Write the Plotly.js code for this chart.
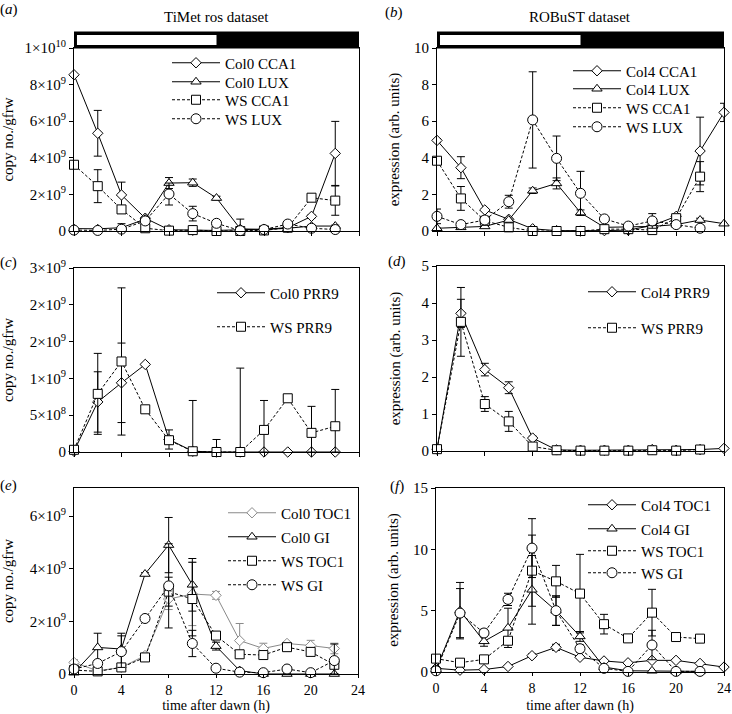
<!DOCTYPE html>
<html><head><meta charset="utf-8">
<script src="https://cdn.plot.ly/plotly-3.0.1.min.js"></script>
<style>body{margin:0;background:#fff;} #chart{width:732px;height:714px;}</style>
</head><body><div id="chart"></div>
<script>
// ---------- data ----------
const hours = [0,2,4,6,8,10,12,14,16,18,20,22];
const hours24 = [0,2,4,6,8,10,12,14,16,18,20,22,24];

// (a) TiMet ros dataset, copy no./gfrw
const aCol0CCA1 = [8.54e9,5.34e9,1.97e9,0.70e9,0.07e9,0.04e9,0.03e9,0.07e9,0.10e9,0.18e9,0.80e9,4.24e9];
const aCol0CCA1Err = [0,1.25e9,0.7e9,0.05e9,0,0,0,0,0,0,0.08e9,1.75e9];
const aCol0LUX = [0.13e9,0.12e9,0.18e9,0.65e9,2.62e9,2.64e9,1.80e9,0.12e9,0.08e9,0.15e9,0.27e9,0.27e9];
const aCol0LUXErr = [0.05e9,0.05e9,0.05e9,0.05e9,0.3e9,0.2e9,0.1e9,0.53e9,0.05e9,0.05e9,0.05e9,0.05e9];
const aWSCCA1 = [3.62e9,2.45e9,1.18e9,0.15e9,0.02e9,0.05e9,0,0,0.03e9,0.18e9,1.82e9,1.66e9];
const aWSCCA1Err = [0.1e9,0.9e9,0.2e9,0.05e9,0,0,0,0,0,0.05e9,0.1e9,0.8e9];
const aWSLUX = [0.05e9,0.03e9,0.10e9,0.55e9,2.02e9,0.95e9,0.42e9,0.02e9,0.08e9,0.38e9,0.15e9,0.08e9];
const aWSLUXErr = [0,0,0.3e9,0.05e9,0.6e9,0.4e9,0.05e9,0,0,0.05e9,0.05e9,0];

// (b) ROBuST dataset, expression (arb. units)
const bCol4CCA1 = [4.95,3.46,1.15,0.64,0.12,0.02,0.0,0.02,0.05,0.30,0.80,4.37,6.48];
const bCol4CCA1Err = [0.1,0.6,0.05,0.05,0,0,0,0,0,0.05,0.1,1.85,0.5];
const bCol4LUX = [0.15,0.2,0.25,0.6,2.2,2.6,1.0,0.2,0.22,0.25,0.35,0.6,0.4];
const bCol4LUXErr = [0,0,0,0.05,0.15,0.3,0.15,0,0,0,0,0.1,0];
const bWSCCA1 = [3.84,1.78,0.56,0.2,0.0,0.0,0.0,0.1,0.1,0.05,0.7,2.97];
const bWSCCA1Err = [0.1,0.65,0.1,0.05,0,0,0,0,0,0,0.1,0.82];
const bWSLUX = [0.8,0.35,0.6,1.6,6.07,3.97,2.06,0.66,0.27,0.55,0.35,0.15];
const bWSLUXErr = [0.4,0.05,0.1,0.35,2.63,1.22,1.2,0.05,0.05,0.4,0.05,0.05];

// (c) TiMet PRR9
const cCol0PRR9 = [0.01e9,0.68e9,0.94e9,1.19e9,0.17e9,0.01e9,0,0,0,0,0,0];
const cCol0PRR9Err = [0,0.41e9,0.54e9,0,0.13e9,0.69e9,0,0,0,0,0,0];
const cWSPRR9 = [0.03e9,0.79e9,1.23e9,0.58e9,0.16e9,0.01e9,0,0,0.3e9,0.73e9,0.26e9,0.35e9];
const cWSPRR9Err = [0,0.55e9,1.0e9,0,0.05e9,0,0.17e9,1.14e9,0.4e9,0,0.36e9,0.5e9];

// (d) ROBuST PRR9
const dCol4PRR9 = [0.05,3.72,2.2,1.71,0.35,0.03,0.02,0.02,0.02,0.04,0.02,0.04,0.07];
const dCol4PRR9Err = [0,0.38,0.17,0.16,0.05,0,0,0,0,0,0,0,0];
const dWSPRR9 = [0.05,3.49,1.27,0.8,0.12,0.02,0.01,0.01,0.01,0.02,0.01,0.04];
const dWSPRR9Err = [0,0.93,0.2,0.27,0,0,0,0,0,0,0,0];

// (e) TiMet TOC1 / GI
const eCol0TOC1 = [0.44e9,0.12e9,0.25e9,0.7e9,2.85e9,3.04e9,2.99e9,1.27e9,0.97e9,1.16e9,1.08e9,0.97e9];
const eCol0TOC1Err = [0.1e9,0,0,0,0.4e9,1.2e9,0.15e9,0.65e9,0.2e9,0.05e9,0.2e9,0.2e9];
const eCol0GI = [0.05e9,1.01e9,0.95e9,3.8e9,4.9e9,3.39e9,1.06e9,0.13e9,0,0,0,0];
const eCol0GIErr = [0,0.54e9,0.6e9,0.05e9,1.05e9,1.0e9,0.15e9,0.05e9,0,0,0,0];
const eWSTOC1 = [0.15e9,0.1e9,0.25e9,0.63e9,3.13e9,2.85e9,1.46e9,0.75e9,0.72e9,1.02e9,0.84e9,0.35e9];
const eWSTOC1Err = [0.05e9,0.05e9,0.05e9,0.05e9,0.55e9,1.4e9,0.1e9,0.1e9,0.1e9,0.05e9,0.1e9,0.1e9];
const eWSGI = [0.19e9,0.4e9,0.85e9,2.11e9,3.35e9,1.16e9,0.22e9,0.07e9,0.05e9,0.19e9,0.05e9,0.51e9];
const eWSGIErr = [0.1e9,0.05e9,0.6e9,0.05e9,1.6e9,0.5e9,0.05e9,0,0,0.05e9,0,0.63e9];

// (f) ROBuST TOC1 / GI
const fCol4TOC1 = [0.3,0.15,0.2,0.45,1.33,2.01,1.2,0.9,0.75,0.95,0.95,0.7,0.4];
const fCol4TOC1Err = [0.05,0,0,0.05,0.15,0.25,0.1,0.05,0.05,0.05,0.05,0.05,0];
const fCol4GI = [0.2,5.0,2.5,3.6,6.7,5.0,2.9,0.4,0.1,0.1,0.05,0.05];
const fCol4GIErr = [0.1,2.3,0.4,1.6,2.8,1.2,0.4,0.1,0,0,0,0];
const fWSTOC1 = [1.09,0.76,1.03,2.55,8.26,7.39,6.39,3.9,2.74,4.84,2.85,2.72];
const fWSTOC1Err = [0.1,0.05,0.1,0.3,2.9,1.3,3.2,0.8,0.1,1.9,0.1,0.15];
const fWSGI = [0.1,4.8,3.18,5.92,10.1,5.0,1.9,0.3,0.05,2.2,0.05,0.05];
const fWSGIErr = [0.05,2.0,0.3,0.5,2.4,1.2,0.3,0.05,0,1.2,0,0];

// tick labels
const xTicks = [0,4,8,12,16,20,24];
const aTickVals = [0,2e9,4e9,6e9,8e9,1e10];
const aTickText = ['0','2×10<sup>9</sup>','4×10<sup>9</sup>','6×10<sup>9</sup>','8×10<sup>9</sup>','1×10<sup>10</sup>'];
const cTickVals = [0,5e8,1e9,1.5e9,2e9,2.5e9];
const cTickText = ['0','5×10<sup>8</sup>','1×10<sup>9</sup>','2×10<sup>9</sup>','2×10<sup>9</sup>','3×10<sup>9</sup>'];
const eTickVals = [0,2e9,4e9,6e9];
const eTickText = ['0','2×10<sup>9</sup>','4×10<sup>9</sup>','6×10<sup>9</sup>'];

// ---------- helpers ----------
const W = 732, H = 714;
const px = v => v / W;
const py = v => 1 - v / H;
const FONT = '"Liberation Serif", "Times New Roman", serif';

const SYM = {diamond:{s:'diamond',z:8}, tri:{s:'triangle-up',z:9}, sq:{s:'square',z:9}, circ:{s:'circle',z:10}};
let legendCount = 0;
const legends = {};
function legendAt(lineStartPx, centerYPx) {
  legendCount++;
  const key = legendCount === 1 ? 'legend' : 'legend' + legendCount;
  legends[key] = {
    x: px(lineStartPx - 5), y: py(centerYPx), xanchor: 'left', yanchor: 'middle',
    bgcolor: 'rgba(0,0,0,0)', borderwidth: 0, itemwidth: 48,
    font: {family: FONT, size: 15, color: '#000'}
  };
  return key;
}
function tr(x, y, err, name, sym, dashed, color, ax, lx, ly) {
  return {
    type: 'scatter', mode: 'lines+markers', x: x, y: y, name: name,
    xaxis: 'x' + ax, yaxis: 'y' + ax,
    line: {color: color, width: 1, dash: dashed ? '3px,2px' : 'solid'},
    marker: {symbol: SYM[sym].s, size: SYM[sym].z, color: '#fff', line: {color: color, width: 1}},
    error_y: {type: 'data', symmetric: false, array: err,
              arrayminus: err.map((e, i) => Math.min(e, y[i])),
              color: color, thickness: 1, width: 4, visible: true},
    cliponaxis: false,
    legend: legendAt(lx, ly)
  };
}

const K = '#000', G = '#8a8a8a';
const data = [
  tr(hours, aCol0CCA1, aCol0CCA1Err, 'Col0 CCA1', 'diamond', false, K, '', 172, 63),
  tr(hours, aCol0LUX, aCol0LUXErr, 'Col0 LUX', 'tri', false, K, '', 172, 82),
  tr(hours, aWSCCA1, aWSCCA1Err, 'WS CCA1', 'sq', true, K, '', 172, 100),
  tr(hours, aWSLUX, aWSLUXErr, 'WS LUX', 'circ', true, K, '', 172, 119),

  tr(hours24, bCol4CCA1, bCol4CCA1Err, 'Col4 CCA1', 'diamond', false, K, '2', 573, 71),
  tr(hours24, bCol4LUX, bCol4LUXErr, 'Col4 LUX', 'tri', false, K, '2', 573, 89),
  tr(hours, bWSCCA1, bWSCCA1Err, 'WS CCA1', 'sq', true, K, '2', 573, 108),
  tr(hours, bWSLUX, bWSLUXErr, 'WS LUX', 'circ', true, K, '2', 573, 127),

  tr(hours, cCol0PRR9, cCol0PRR9Err, 'Col0 PRR9', 'diamond', false, K, '3', 217, 293),
  tr(hours, cWSPRR9, cWSPRR9Err, 'WS PRR9', 'sq', true, K, '3', 217, 327),

  tr(hours24, dCol4PRR9, dCol4PRR9Err, 'Col4 PRR9', 'diamond', false, K, '4', 588, 292),
  tr(hours, dWSPRR9, dWSPRR9Err, 'WS PRR9', 'sq', true, K, '4', 588, 328),

  tr(hours, eCol0TOC1, eCol0TOC1Err, 'Col0 TOC1', 'diamond', false, G, '5', 228, 513),
  tr(hours, eCol0GI, eCol0GIErr, 'Col0 GI', 'tri', false, K, '5', 228, 537),
  tr(hours, eWSTOC1, eWSTOC1Err, 'WS TOC1', 'sq', true, K, '5', 228, 561),
  tr(hours, eWSGI, eWSGIErr, 'WS GI', 'circ', true, K, '5', 228, 585),

  tr(hours24, fCol4TOC1, fCol4TOC1Err, 'Col4 TOC1', 'diamond', false, K, '6', 588, 505),
  tr(hours, fCol4GI, fCol4GIErr, 'Col4 GI', 'tri', false, K, '6', 588, 529),
  tr(hours, fWSTOC1, fWSTOC1Err, 'WS TOC1', 'sq', true, K, '6', 588, 551),
  tr(hours, fWSGI, fWSGIErr, 'WS GI', 'circ', true, K, '6', 588, 573)
];

const tickFont = {family: FONT, size: 15, color: '#000'};
function xax(l, r, showLabels, anchor) {
  const ax = {domain: [px(l), px(r)], range: [0, 24], tickvals: xTicks,
    showticklabels: showLabels, ticks: 'outside', ticklen: showLabels ? 3 : 4, tickcolor: '#000',
    showline: true, mirror: true, linecolor: '#000', linewidth: 1, showgrid: false, zeroline: false,
    tickfont: showLabels ? {family: FONT, size: 14, color: '#000'} : tickFont, anchor: anchor};
  if (showLabels) {
    ax.ticktext = xTicks.map(String);
    ax.title = {text: 'time after dawn (h)', font: {family: FONT, size: 14, color: '#000'}, standoff: 7};
  }
  return ax;
}
function yax(top, bottom, range, vals, text, title, standoff, anchor) {
  return {domain: [py(bottom), py(top)], range: range, tickvals: vals, ticktext: text,
    ticks: 'outside', ticklen: 4, tickcolor: '#000',
    showline: true, mirror: true, linecolor: '#000', linewidth: 1, showgrid: false, zeroline: false,
    tickfont: tickFont, anchor: anchor,
    title: {text: title, font: {family: FONT, size: 15, color: '#000'}, standoff: standoff}};
}
const copyT = 'copy no./gfrw', exprT = 'expression (arb. units)';

function note(text, x, y) {
  return {text: text, x: px(x), y: py(y), xref: 'paper', yref: 'paper', xanchor: 'center', yanchor: 'middle',
          showarrow: false, font: {family: FONT, size: 15, color: '#000'}};
}

const layout = Object.assign({
  width: W, height: H, margin: {l: 0, r: 0, t: 0, b: 0},
  paper_bgcolor: '#fff', plot_bgcolor: '#fff', showlegend: true,
  font: {family: FONT, size: 15, color: '#000'},
  xaxis: xax(74, 359, false, 'y'),
  yaxis: yax(48, 231, [0, 1e10], aTickVals, aTickText, copyT, 7, 'x'),
  xaxis2: xax(437, 724, false, 'y2'),
  yaxis2: yax(48, 231, [0, 10], [0,2,4,6,8,10], ['0','2','4','6','8','10'], exprT, 10, 'x2'),
  xaxis3: xax(74, 359, false, 'y3'),
  yaxis3: yax(268, 452, [0, 2.5e9], cTickVals, cTickText, copyT, 12, 'x3'),
  xaxis4: xax(437, 724, false, 'y4'),
  yaxis4: yax(266, 451, [0, 5], [0,1,2,3,4,5], ['0','1','2','3','4','5'], exprT, 17, 'x4'),
  xaxis5: xax(74, 358, true, 'y5'),
  yaxis5: yax(488, 674, [0, 7.07e9], eTickVals, eTickText, copyT, 12, 'x5'),
  xaxis6: xax(436, 724, true, 'y6'),
  yaxis6: yax(488, 672, [0, 15], [0,5,10,15], ['0','5','10','15'], exprT, 10, 'x6'),
  shapes: [
    {type: 'rect', xref: 'x', yref: 'paper', x0: 0, x1: 24, y0: py(48), y1: py(32), fillcolor: '#000', line: {color: '#000', width: 1}, layer: 'above'},
    {type: 'rect', xref: 'x', yref: 'paper', x0: 0.25, x1: 12, y0: py(45), y1: py(35), fillcolor: '#fff', line: {width: 0}, layer: 'above'},
    {type: 'rect', xref: 'x2', yref: 'paper', x0: 0, x1: 24, y0: py(48), y1: py(32), fillcolor: '#000', line: {color: '#000', width: 1}, layer: 'above'},
    {type: 'rect', xref: 'x2', yref: 'paper', x0: 0.25, x1: 12, y0: py(45), y1: py(35), fillcolor: '#fff', line: {width: 0}, layer: 'above'}
  ],
  annotations: [
    note('TiMet ros dataset', 216, 17),
    note('ROBuST dataset', 580, 17),
    note('(<i>a</i>)', 9, 10),
    note('(<i>b</i>)', 394, 12),
    note('(<i>c</i>)', 8, 262),
    note('(<i>d</i>)', 397, 261),
    note('(<i>e</i>)', 8, 485),
    note('(<i>f</i>)', 397, 486)
  ]
}, legends);

Plotly.newPlot('chart', data, layout, {displayModeBar: false, staticPlot: true});
</script>
</body></html>
